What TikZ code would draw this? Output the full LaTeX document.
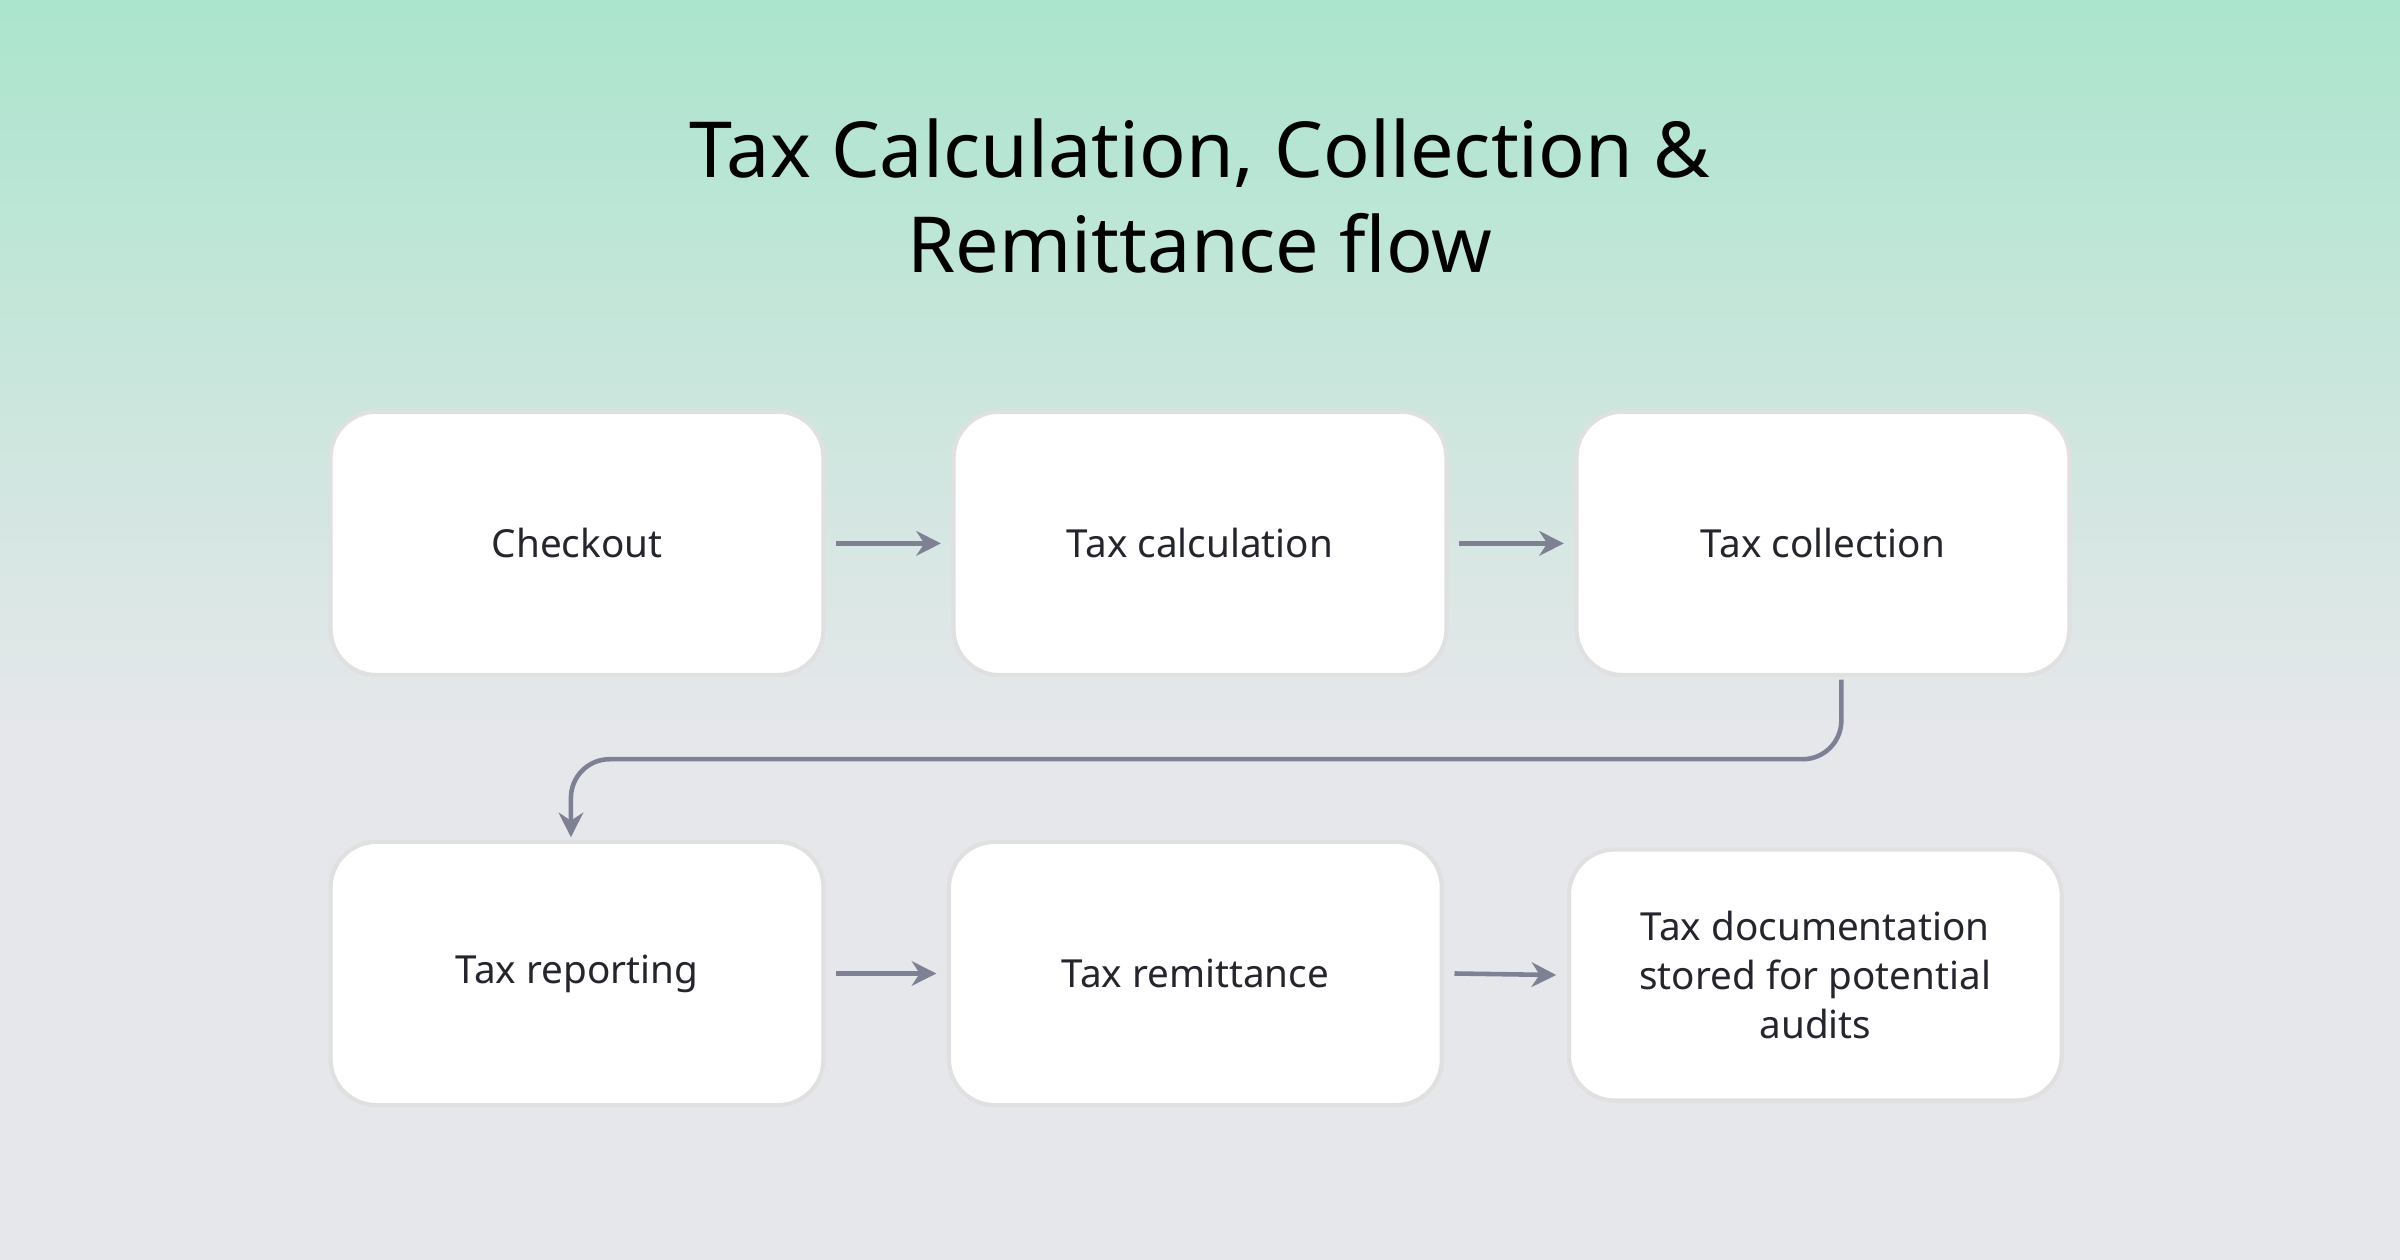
\documentclass[tikz,border=0pt]{standalone}
\usepackage{fontspec}
\setmainfont{Noto Sans}
\usetikzlibrary{arrows.meta}
\definecolor{bgg}{HTML}{ABE5CD}
\definecolor{bgy}{HTML}{E5E7EA}
\definecolor{arr}{HTML}{7E8194}
\definecolor{txt}{HTML}{25262D}
\tikzset{
 box/.style={draw=black!12, line width=1.2pt, fill=white, rounded corners=13pt, minimum width=322*0.15306mm, minimum height=172*0.15306mm, align=center, font=\bfseries\fontsize{11}{14}\selectfont, text=txt},
 conn/.style={draw=arr, line width=1.3pt, -{Stealth[length=7pt,width=7pt]}}
}
\begin{document}
\begin{tikzpicture}[x=0.15306mm,y=-0.15306mm]
\useasboundingbox (0,0) rectangle (1568,823);
\shade[top color=bgg, bottom color=bgy] (0,0) rectangle (1568,470);
\fill[bgy] (0,469) rectangle (1568,823);
\node[font=\bfseries\fontsize{22}{27}\selectfont, align=center] (title) at (784,128) {Tax Calculation, Collection \&\\Remittance flow};
\node[box] (a) at (377,355) {Checkout};
\node[box] (b) at (784,355) {Tax calculation};
\node[box] (c) at (1191,355) {Tax collection};
\node[box] (d) at (377,636) {Tax reporting};
\node[box] (e) at (781,636) {Tax remittance};
\node[box, minimum height=164*0.15306mm] (f) at (1186,637) {Tax documentation\\stored for potential\\audits};
\draw[conn] ([xshift=3pt]a.east) -- ([xshift=-3pt]b.west);
\draw[conn] ([xshift=3pt]b.east) -- ([xshift=-3pt]c.west);
\draw[conn] ([xshift=3pt]d.east) -- ([xshift=-3pt]e.west);
\draw[conn] ([xshift=3pt]e.east) -- ([xshift=-3pt]f.west);
\coordinate (c1) at (1203,444);
\coordinate (d1) at (373,547);
\draw[conn, rounded corners=11pt] (c1) -- (1203,496) -- (373,496) -- (d1);
\end{tikzpicture}
\end{document}
